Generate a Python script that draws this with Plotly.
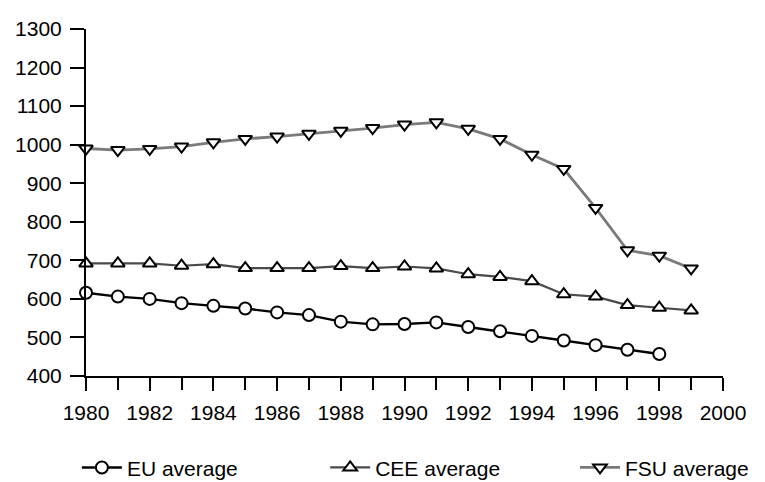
import plotly.graph_objects as go

years = list(range(1980, 2000))
eu_years = list(range(1980, 1999))
eu_values = [616, 606, 600, 589, 582, 575, 565, 558, 541, 534, 535, 539, 527, 516, 504, 492, 480, 468, 457]
cee_values = [692, 692, 692, 686, 690, 680, 680, 680, 685, 680, 684, 679, 664, 657, 646, 612, 606, 584, 577, 570]
fsu_values = [990, 986, 989, 995, 1006, 1015, 1021, 1028, 1036, 1043, 1052, 1058, 1041, 1015, 974, 937, 836, 726, 712, 679]
x_tick_labels = [str(y) for y in range(1980, 2001, 2)]
y_tick_values = list(range(400, 1301, 100))

fig = go.Figure()
marker_line = dict(color="black", width=2)
fig.add_trace(go.Scatter(x=eu_years, y=eu_values, name="EU average", mode="lines+markers",
                         line=dict(color="black", width=2.4), legend="legend",
                         marker=dict(symbol="circle", size=12, color="white", line=marker_line)))
fig.add_trace(go.Scatter(x=years, y=cee_values, name="CEE average", mode="lines+markers",
                         line=dict(color="#4a4a4a", width=2.2), legend="legend2",
                         marker=dict(symbol="triangle-up", size=12, color="white", line=marker_line)))
fig.add_trace(go.Scatter(x=years, y=fsu_values, name="FSU average", mode="lines+markers",
                         line=dict(color="#7a7a7a", width=2.8), legend="legend3",
                         marker=dict(symbol="triangle-down", size=12, color="white", line=marker_line)))

def legend_at(xpos):
    return dict(orientation="h", xref="container", yref="container",
                x=xpos, xanchor="left", y=0.03, yanchor="middle",
                font=dict(size=21), itemwidth=40, bgcolor="rgba(0,0,0,0)")

# page has an 8px body margin: figure is sized/positioned to compensate
fig.update_layout(
    width=757, height=474,
    margin=dict(l=78, r=42, t=21, b=106, autoexpand=False),
    paper_bgcolor="white", plot_bgcolor="white",
    font=dict(family="Liberation Sans, Arial, sans-serif", size=21, color="black"),
    showlegend=True,
    legend=legend_at(0.091),
    legend2=legend_at(0.419),
    legend3=legend_at(0.749),
    xaxis=dict(range=[1980, 2000], tickvals=[int(t) for t in x_tick_labels], ticktext=x_tick_labels,
               showgrid=False, zeroline=False, showline=True, linecolor="black", linewidth=2,
               ticks="outside", ticklen=13, tickwidth=2, tickcolor="black",
               minor=dict(dtick=1, tick0=1980, ticks="outside", ticklen=12, tickwidth=2, tickcolor="black", showgrid=False),
               ticklabelstandoff=4),
    yaxis=dict(range=[400, 1300], tickvals=y_tick_values,
               showgrid=False, zeroline=False, showline=True, linecolor="black", linewidth=2,
               ticks="outside", ticklen=14, tickwidth=2, tickcolor="black", ticklabelstandoff=4),
)
for tr in fig.data:
    tr.cliponaxis = False

fig.write_html("out.html")
